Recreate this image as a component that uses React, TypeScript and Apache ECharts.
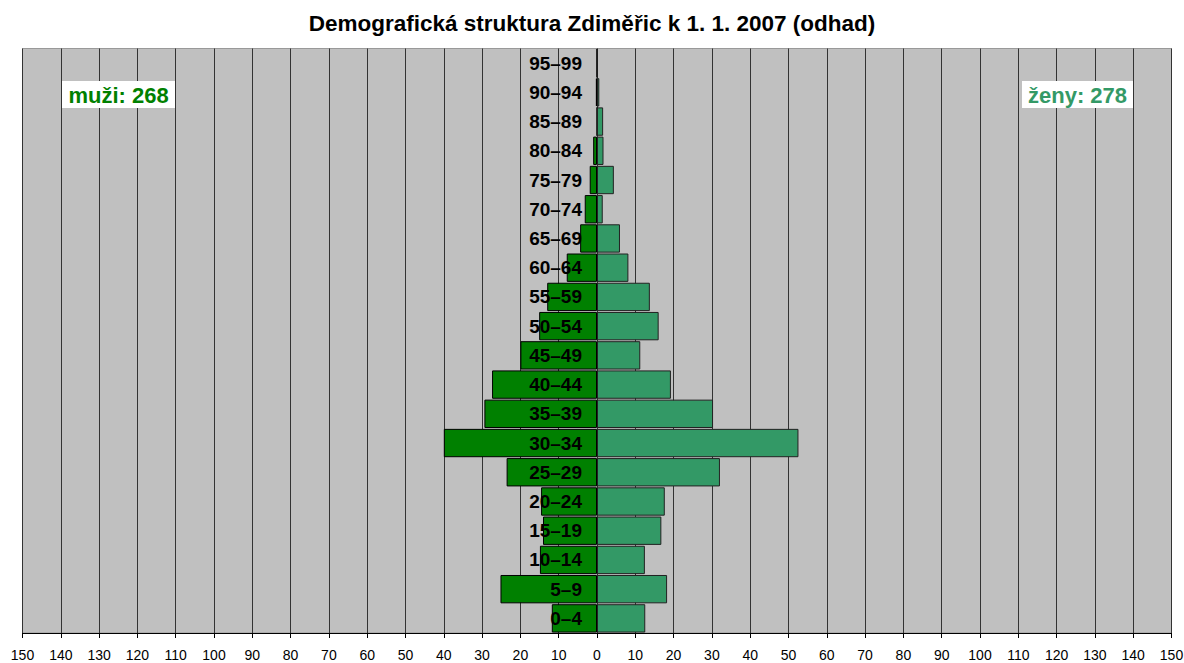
import React, { useEffect, useRef } from "react";
import * as echarts from "echarts";

const ageGroups = [
  "0–4", "5–9", "10–14", "15–19", "20–24", "25–29", "30–34", "35–39", "40–44", "45–49",
  "50–54", "55–59", "60–64", "65–69", "70–74", "75–79", "80–84", "85–89", "90–94", "95–99",
];
const men = [11.8, 25.2, 14.9, 14.1, 14.6, 23.6, 40.0, 29.4, 27.4, 20.0, 15.1, 13.0, 7.9, 4.4, 3.2, 1.9, 1.0, 0, 0.3, 0];
const women = [12.6, 18.3, 12.5, 16.8, 17.7, 32.1, 52.6, 30.3, 19.3, 11.3, 16.1, 13.8, 8.2, 6.0, 1.5, 4.4, 1.7, 1.6, 0.6, 0];
const titleText = "Demografická struktura Zdiměřic k 1. 1. 2007 (odhad)";
const menLabel = "muži: 268";
const womenLabel = "ženy: 278";

const FONT = "'Liberation Sans', Arial, sans-serif";
const MEN_COLOR = "#008000";
const WOMEN_COLOR = "#339966";

export default function App() {
  const ref = useRef<HTMLDivElement>(null);
  useEffect(() => {
    if (!ref.current) return;
    const chart = echarts.init(ref.current, undefined, { renderer: "svg" });
    chart.setOption({
      animation: false,
      backgroundColor: "#ffffff",
      title: {
        text: titleText,
        left: "center",
        top: 7,
        textStyle: { fontFamily: FONT, fontSize: 22.5, fontWeight: "bold", color: "#000" },
      },
      grid: {
        left: 22.5,
        right: 12.5,
        top: 48.5,
        bottom: 30,
        containLabel: false,
        outerBoundsMode: "none",
        show: true,
        backgroundColor: "#C0C0C0",
        borderColor: "#999999",
        borderWidth: 1,
      },
      xAxis: {
        type: "value",
        min: -150,
        max: 150,
        interval: 10,
        axisLine: { show: true, onZero: false, lineStyle: { color: "#000", width: 1 } },
        axisTick: { show: true, length: 5, lineStyle: { color: "#000" } },
        axisLabel: {
          margin: 15,
          fontFamily: FONT,
          fontSize: 14,
          color: "#000",
          formatter: (v: number) => String(Math.abs(v)),
        },
        splitLine: { show: true, lineStyle: { color: "#333333", width: 1 } },
      },
      yAxis: {
        type: "category",
        data: ageGroups,
        z: 10,
        position: "left",
        offset: -574.5,
        axisLine: { show: false, onZero: false },
        axisTick: { show: false },
        axisLabel: {
          margin: 15,
          fontFamily: FONT,
          fontSize: 19,
          fontWeight: "bold",
          color: "#000",
        },
        splitLine: { show: false },
      },
      series: [
        {
          name: "muži",
          type: "bar",
          data: men.map((v) => -v),
          barGap: "-100%",
          barCategoryGap: "3%",
          itemStyle: { color: MEN_COLOR, borderColor: "#000", borderWidth: 1 },
        },
        {
          name: "ženy",
          type: "bar",
          data: women,
          barGap: "-100%",
          barCategoryGap: "3%",
          itemStyle: { color: WOMEN_COLOR, borderColor: "#222", borderWidth: 1 },
        },
      ],
      graphic: [
        { type: "rect", shape: { x: 62, y: 81, width: 113, height: 27 }, style: { fill: "#fff" }, z: 20 },
        {
          type: "text",
          x: 118.5,
          y: 95,
          z: 21,
          style: {
            text: menLabel,
            fill: MEN_COLOR,
            font: `bold 22px ${FONT}`,
            align: "center",
            verticalAlign: "middle",
          },
        },
        { type: "rect", shape: { x: 1022, y: 81, width: 111, height: 27 }, style: { fill: "#fff" }, z: 20 },
        {
          type: "text",
          x: 1077.5,
          y: 95,
          z: 21,
          style: {
            text: womenLabel,
            fill: WOMEN_COLOR,
            font: `bold 22px ${FONT}`,
            align: "center",
            verticalAlign: "middle",
          },
        },
      ],
    });
    return () => chart.dispose();
  }, []);
  return <div ref={ref} style={{ width: 1184, height: 663, position: "absolute", left: 0, top: 0 }} />;
}
